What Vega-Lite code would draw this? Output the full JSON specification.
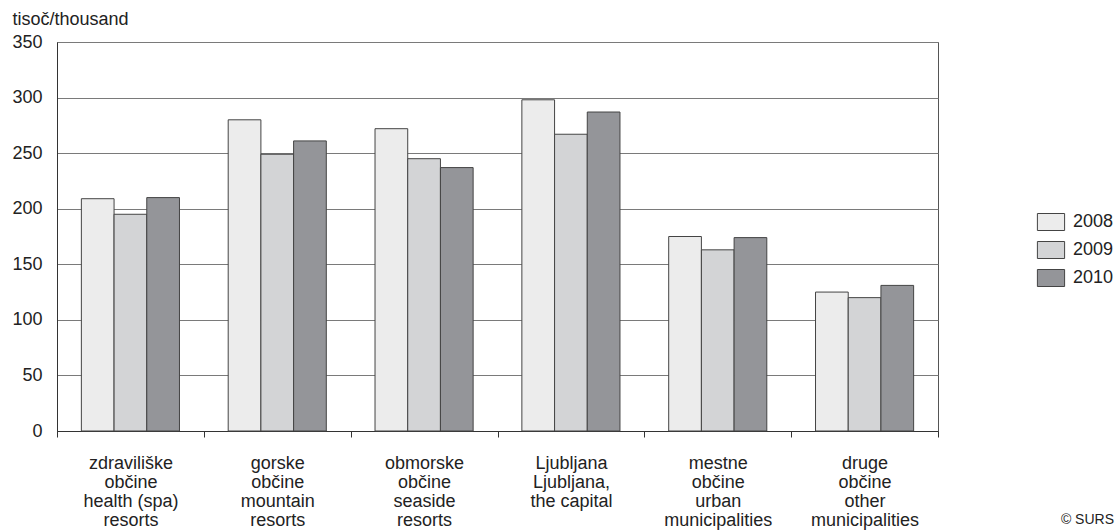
{
  "$schema": "https://vega.github.io/schema/vega-lite/v6.json",
  "width": 881,
  "height": 389,
  "autosize": "none",
  "padding": {"left": 57, "top": 42, "right": 180, "bottom": 101},
  "background": "white",
  "config": {"font": "Liberation Sans", "view": {"stroke": "#555", "strokeWidth": 1}},
  "title": {"text": "© SURS", "orient": "bottom", "anchor": "end", "frame": "bounds", "fontSize": 14, "fontWeight": "normal", "color": "#222", "offset": 0, "baseline": "alphabetic", "dy": -5},
  "data": {"values": [
    {"group": "zdraviliške|občine|health (spa)|resorts", "year": "2008", "value": 209},
    {"group": "zdraviliške|občine|health (spa)|resorts", "year": "2009", "value": 195},
    {"group": "zdraviliške|občine|health (spa)|resorts", "year": "2010", "value": 210},
    {"group": "gorske|občine|mountain|resorts", "year": "2008", "value": 280},
    {"group": "gorske|občine|mountain|resorts", "year": "2009", "value": 249},
    {"group": "gorske|občine|mountain|resorts", "year": "2010", "value": 261},
    {"group": "obmorske|občine|seaside|resorts", "year": "2008", "value": 272},
    {"group": "obmorske|občine|seaside|resorts", "year": "2009", "value": 245},
    {"group": "obmorske|občine|seaside|resorts", "year": "2010", "value": 237},
    {"group": "Ljubljana|Ljubljana,|the capital", "year": "2008", "value": 298},
    {"group": "Ljubljana|Ljubljana,|the capital", "year": "2009", "value": 267},
    {"group": "Ljubljana|Ljubljana,|the capital", "year": "2010", "value": 287},
    {"group": "mestne|občine|urban|municipalities", "year": "2008", "value": 175},
    {"group": "mestne|občine|urban|municipalities", "year": "2009", "value": 163},
    {"group": "mestne|občine|urban|municipalities", "year": "2010", "value": 174},
    {"group": "druge|občine|other|municipalities", "year": "2008", "value": 125},
    {"group": "druge|občine|other|municipalities", "year": "2009", "value": 120},
    {"group": "druge|občine|other|municipalities", "year": "2010", "value": 131}
  ]},
  "mark": {"type": "bar", "stroke": "#444", "strokeWidth": 1},
  "encoding": {
    "x": {
      "field": "group", "type": "nominal", "sort": null,
      "scale": {"paddingInner": 0, "paddingOuter": 0},
      "axis": {
        "title": null, "labelAngle": 0, "labelExpr": "split(datum.label, '|')",
        "labelFontSize": 18, "labelColor": "#222", "labelLineHeight": 19,
        "labelBaseline": "top", "labelPadding": 17, "tickBand": "extent",
        "tickSize": 6, "tickColor": "#333", "domainColor": "#333", "labelLimit": 300
      }
    },
    "xOffset": {"field": "year", "type": "nominal", "scale": {"paddingInner": 0, "paddingOuter": 0.745}},
    "y": {
      "field": "value", "type": "quantitative",
      "scale": {"domain": [0, 350]},
      "axis": {
        "values": [0, 50, 100, 150, 200, 250, 300, 350],
        "title": "tisoč/thousand", "titleAngle": 0, "titleAlign": "left",
        "titleBaseline": "alphabetic", "titleX": -45, "titleY": -18,
        "titleFontSize": 18, "titleFontWeight": "normal", "titleColor": "#222",
        "labelFontSize": 18, "labelColor": "#222", "labelPadding": 15,
        "ticks": false, "tickSize": 0, "gridColor": "#7a7a7a", "domainColor": "#333"
      }
    },
    "fill": {
      "field": "year", "type": "nominal",
      "scale": {"domain": ["2008", "2009", "2010"], "range": ["#ececec", "#d3d4d6", "#949599"]},
      "legend": {
        "title": null, "orient": "none", "legendX": 985, "legendY": 171,
        "symbolType": "M-1.6,-1L1.6,-1L1.6,1L-1.6,1Z", "symbolSize": 289,
        "symbolStrokeColor": "#444", "symbolStrokeWidth": 1,
        "labelFontSize": 18, "labelColor": "#222", "labelOffset": 13,
        "rowPadding": 6, "padding": 0
      }
    }
  }
}
